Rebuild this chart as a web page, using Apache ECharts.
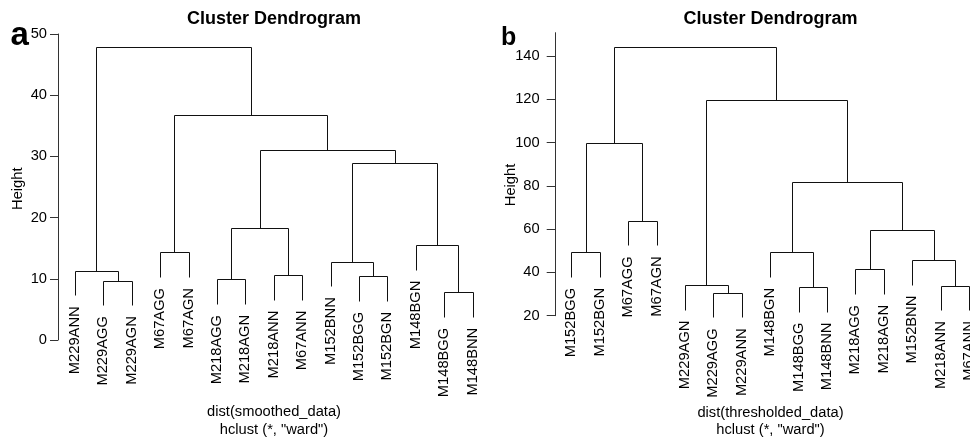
<!DOCTYPE html>
<html>
<head>
<meta charset="utf-8">
<script src="https://cdn.jsdelivr.net/npm/echarts@6/dist/echarts.min.js"></script>
<style>html,body{margin:0;padding:0;background:#fff;}#c{width:970px;height:437px;}</style>
</head>
<body>
<div id="c"></div>
<script>
// ---- Panel a: dist(smoothed_data) ----
const leavesA = ['M229ANN','M229AGG','M229AGN','M67AGG','M67AGN','M218AGG','M218AGN','M218ANN','M67ANN','M152BNN','M152BGG','M152BGN','M148BGN','M148BGG','M148BNN'];
// merges: negative = leaf (1-based position), positive = earlier merge (1-based)
const mergeA = [[-2,-3],[-1,1],[-4,-5],[-6,-7],[-8,-9],[4,5],[-11,-12],[-10,7],[-14,-15],[-13,9],[8,10],[6,11],[3,12],[2,13]];
const heightA = [9.7,11.3,14.3,9.9,10.6,18.35,10.4,12.8,7.8,15.5,28.9,31.05,36.7,47.9];
const ticksA = [0,10,20,30,40,50];

// ---- Panel b: dist(thresholded_data) ----
const leavesB = ['M152BGG','M152BGN','M67AGG','M67AGN','M229AGN','M229AGG','M229ANN','M148BGN','M148BGG','M148BNN','M218AGG','M218AGN','M152BNN','M218ANN','M67ANN'];
const mergeB = [[-1,-2],[-3,-4],[1,2],[-6,-7],[-5,4],[-9,-10],[-8,6],[-11,-12],[-14,-15],[-13,9],[8,10],[7,11],[5,12],[3,13]];
const heightB = [49.3,63.9,99.7,30.6,34.2,33.3,49.3,41.4,33.9,45.7,59.5,81.9,119.7,144.3];
const ticksB = [20,40,60,80,100,120,140];

const FONT = '"Liberation Sans", Arial, Helvetica, sans-serif';

function layout(leaves, merges, heights) {
  const hang = 0.1 * (Math.max(...heights) - Math.min(...heights));
  const pos = [];
  const segs = [];
  const leafPts = new Array(leaves.length);
  merges.forEach((m, i) => {
    const hm = heights[i];
    const ch = m.map(c => {
      if (c < 0) {
        const x = -c;
        const h = hm - hang;
        leafPts[x - 1] = [x, h];
        return [x, h];
      }
      return [pos[c - 1], heights[c - 1]];
    });
    pos[i] = (ch[0][0] + ch[1][0]) / 2;
    segs.push([ch[0][0], ch[0][1], ch[1][0], ch[1][1], hm]);
  });
  return { segs, leafPts };
}

const LA = layout(leavesA, mergeA, heightA);
const LB = layout(leavesB, mergeB, heightB);

function px(v) { return Math.round(v) + 0.5; }

function segRender(params, api) {
  const x1 = api.value(0), h1 = api.value(1), x2 = api.value(2), h2 = api.value(3), hm = api.value(4);
  const a = api.coord([x1, h1]), b = api.coord([x1, hm]), c = api.coord([x2, hm]), d = api.coord([x2, h2]);
  return {
    type: 'polyline',
    shape: { points: [[px(a[0]), px(a[1])], [px(b[0]), px(b[1])], [px(c[0]), px(c[1])], [px(d[0]), px(d[1])]] },
    style: { stroke: '#111', lineWidth: 1, fill: null }
  };
}

function labelRender(leaves) {
  return function (params, api) {
    const p = api.coord([api.value(0), api.value(1)]);
    return {
      type: 'text',
      x: p[0],
      y: p[1] + 11,
      rotation: Math.PI / 2,
      style: { text: leaves[params.dataIndex], font: '14.7px ' + FONT, fill: '#000', align: 'right', verticalAlign: 'middle' }
    };
  };
}

function yAxisCfg(min, max, interval, ticks, margin, tickLen) {
  return {
    type: 'value', min: min, max: max, interval: interval,
    axisLine: { show: true, lineStyle: { color: '#333', width: 1 } },
    axisTick: { show: true, length: tickLen, lineStyle: { color: '#333' }, customValues: ticks },
    axisLabel: { show: true, margin: margin, color: '#000', fontSize: 14.7, fontFamily: FONT, customValues: ticks },
    splitLine: { show: false }
  };
}

const chart = echarts.init(document.getElementById('c'), null, { renderer: 'canvas' });
const yA = yAxisCfg(0, 50, 10, ticksA, 11, 8);
const yB = yAxisCfg(20, 150.8, 20, ticksB, 16, 9);

function txt(x, y, text, font, extra) {
  return Object.assign({
    type: 'text', x: x, y: y, silent: true,
    style: { text: text, font: font, fill: '#000', align: 'center', verticalAlign: 'middle' }
  }, extra || {});
}

chart.setOption({
  animation: false,
  backgroundColor: '#fff',
  grid: [
    { left: 58, top: 34, width: 443, height: 306, outerBoundsMode: 'none', containLabel: false },
    { left: 555.7, top: 32.7, width: 441.8, height: 283, outerBoundsMode: 'none', containLabel: false }
  ],
  xAxis: [
    { gridIndex: 0, type: 'value', min: 0.4, max: 16, show: false },
    { gridIndex: 1, type: 'value', min: 0.45, max: 16, show: false }
  ],
  yAxis: [Object.assign({ gridIndex: 0 }, yA), Object.assign({ gridIndex: 1 }, yB)],
  series: [
    { type: 'custom', xAxisIndex: 0, yAxisIndex: 0, data: LA.segs, renderItem: segRender, clip: false, silent: true },
    { type: 'custom', xAxisIndex: 0, yAxisIndex: 0, data: LA.leafPts, renderItem: labelRender(leavesA), clip: false, silent: true },
    { type: 'custom', xAxisIndex: 1, yAxisIndex: 1, data: LB.segs, renderItem: segRender, clip: false, silent: true },
    { type: 'custom', xAxisIndex: 1, yAxisIndex: 1, data: LB.leafPts, renderItem: labelRender(leavesB), clip: false, silent: true }
  ],
  graphic: [
    txt(274, 18.7, 'Cluster Dendrogram', 'bold 18px ' + FONT),
    txt(770.5, 18.7, 'Cluster Dendrogram', 'bold 18px ' + FONT),
    txt(274, 412, 'dist(smoothed_data)', '14.7px ' + FONT),
    txt(274, 429.5, 'hclust (*, "ward")', '14.7px ' + FONT),
    txt(770.5, 413, 'dist(thresholded_data)', '14.7px ' + FONT),
    txt(770.5, 430, 'hclust (*, "ward")', '14.7px ' + FONT),
    txt(18, 188.7, 'Height', '14.7px ' + FONT, { rotation: Math.PI / 2 }),
    txt(511, 185, 'Height', '14.7px ' + FONT, { rotation: Math.PI / 2 }),
    txt(10.4, 36.3, 'a', 'bold 33px ' + FONT, { style: { text: 'a', font: 'bold 33px ' + FONT, fill: '#000', align: 'left', verticalAlign: 'middle' } }),
    txt(501, 38, 'b', 'bold 25px ' + FONT, { style: { text: 'b', font: 'bold 25px ' + FONT, fill: '#000', align: 'left', verticalAlign: 'middle' } })
  ]
});
</script>
</body>
</html>
